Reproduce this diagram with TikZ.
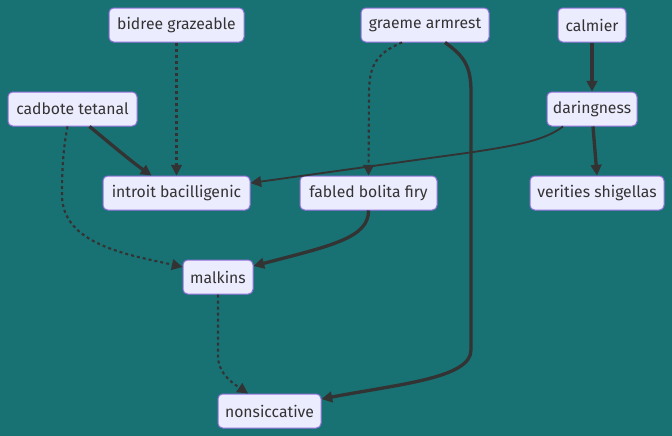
\documentclass[tikz,border=0pt]{standalone}
\usepackage{fontspec}
\setmainfont{Fira Sans}
\usetikzlibrary{arrows.meta,calc}
\definecolor{bgteal}{HTML}{187274}
\definecolor{nodefill}{HTML}{ECECFF}
\definecolor{nodeline}{HTML}{9370DB}
\definecolor{edgecol}{HTML}{333333}
\tikzset{
  box/.style={draw=nodeline, fill=nodefill, line width=0.75pt, rounded corners=3.5pt,
    minimum height=25.5pt, inner sep=0pt, text=edgecol, font=\fontsize{11.8pt}{13pt}\selectfont},
  tip/.style={-{Triangle[length=8pt,width=8pt]}},
  thickedge/.style={tip, draw=edgecol, line width=2.5pt},
  normedge/.style={tip, draw=edgecol, line width=1.4pt},
  dotedge/.style={tip, draw=edgecol, line width=1.6pt, dash pattern=on 2.25pt off 2.25pt},
}
\begin{document}
\begin{tikzpicture}[x=0.75pt,y=-0.75pt]
\fill[bgteal] (0,0) rectangle (672,436);
\useasboundingbox (0,0) rectangle (672,436);
\node[box, minimum width=101.25pt] (bid) at (176.5,25) {bidree grazeable};
\node[box, minimum width=96pt] (gra) at (425,25) {graeme armrest};
\node[box, minimum width=51pt] (cal) at (592,25) {calmier};
\node[box, minimum width=96.75pt] (cad) at (72.5,109) {cadbote tetanal};
\node[box, minimum width=67.5pt] (dar) at (592,109) {daringness};
\node[box, minimum width=110.25pt] (intro) at (176.5,193) {introit bacilligenic};
\node[box, minimum width=102.75pt] (fab) at (368.5,193) {fabled bolita firy};
\node[box, minimum width=100.5pt] (ver) at (597,193) {verities shigellas};
\node[box, minimum width=52.5pt] (malk) at (218,277) {malkins};
\node[box, minimum width=77.25pt] (nons) at (269.5,411) {nonsiccative};
% edges
\draw[dotedge] (bid.south) -- (intro.north);
\draw[thickedge] ($(cad.south)+(17,0)$) .. controls (112,145) and (132,162) .. ($(intro.north)+(-25,0)$);
\draw[dotedge] ($(cad.south)+(-5,0)$) .. controls (63,150) and (62,170) .. (62,195) .. controls (62,245) and (130,255) .. ($(malk.west)+(0,-10)$);
\draw[dotedge] ($(gra.south)+(-23,0)$) .. controls (374,54) and (369,68) .. (369,95) -- (fab.north);
\draw[thickedge] ($(gra.south)+(20,0)$) .. controls (464,56) and (471,66) .. (471,92) -- (471,350) .. controls (471,378) and (400,384) .. ($(nons.east)+(0,-12)$);
\draw[thickedge] (cal.south) -- (dar.north);
\draw[thickedge] ($(dar.south)+(1,0)$) -- (ver.north);
\draw[normedge] ($(dar.south)+(-29,0)$) .. controls (545,140) and (520,145) .. (470,152.5) -- ($(intro.east)+(0,-10)$);
\draw[thickedge] (fab.south) .. controls (369,238) and (330,246) .. ($(malk.east)+(0,-11)$);
\draw[dotedge] (malk.south) -- (218,356) .. controls (218,374) and (234,384) .. ($(nons.north)+(-21.5,0)$);
\end{tikzpicture}
\end{document}
